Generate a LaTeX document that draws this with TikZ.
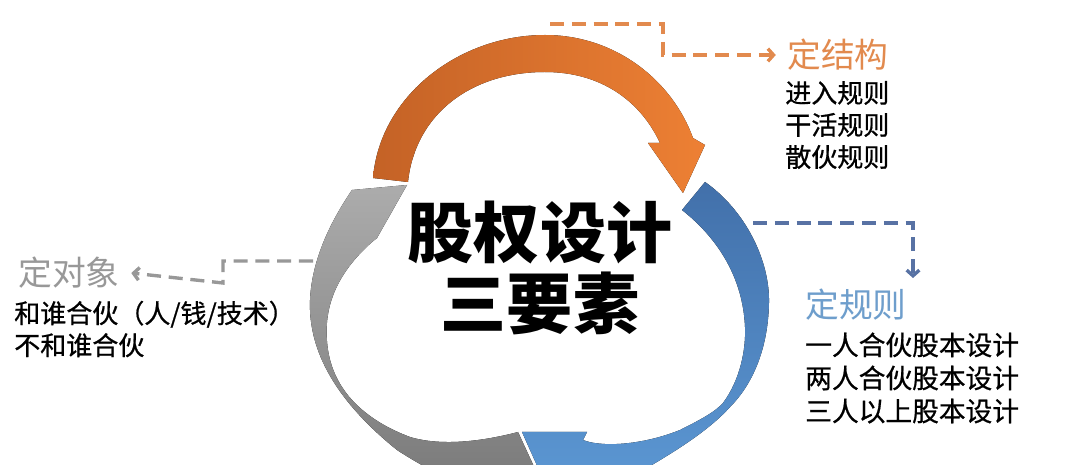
\documentclass[tikz,border=0pt]{standalone}
\usepackage{fontspec}
\newfontfamily\cjk{Noto Sans CJK SC}
\newfontfamily\cjkm[FakeBold=0.7]{Noto Sans CJK SC}
\usepackage{tikz}
\usetikzlibrary{positioning,arrows.meta,calc}

\definecolor{orgD}{RGB}{196,98,38}
\definecolor{orgL}{RGB}{237,128,52}
\definecolor{bluD}{RGB}{66,112,170}
\definecolor{bluL}{RGB}{92,152,212}
\definecolor{gryL}{RGB}{172,172,172}
\definecolor{gryD}{RGB}{122,122,122}
\definecolor{orgT}{RGB}{226,138,78}
\definecolor{bluT}{RGB}{110,158,204}
\definecolor{bluK}{RGB}{88,114,164}
\definecolor{gryT}{RGB}{152,152,152}

\tikzset{
	head/.style={font=\cjk\fontsize{24}{28}\selectfont, anchor=west, inner sep=0pt},
	items/.style={font=\cjkm\fontsize{18.5}{22.8}\selectfont, anchor=west, align=left, inner sep=0pt},
	link/.style={->, line width=2.4pt, dash pattern=on 10pt off 5.5pt},
	title/.style={font=\cjk\bfseries\fontsize{47}{50}\selectfont, inner sep=0pt}
}

\begin{document}
\begin{tikzpicture}[x=0.025cm, y=-0.025cm, >={Straight Barb[length=4pt,width=9pt]}]
	\fill[white] (0,0) rectangle (1080,465);
	\useasboundingbox (0,0) rectangle (1080,465);

	\begin{scope}
	\clip (0,0) rectangle (1080,465);
	% orange arrow
	\fill[left color=orgD, right color=orgL]
		(373,178) .. controls (380,95) and (460,35) .. (545,35)
		.. controls (615,35) and (672,80) .. (693,138) -- (705,145) -- (683,193)
		-- (648,143) -- (660,143) .. controls (640,100) and (600,72) .. (545,72)
		.. controls (470,72) and (415,115) .. (408,182) -- cycle;
	% blue arrow
	\fill[top color=bluD, bottom color=bluL]
		(705,182) .. controls (745,210) and (770,260) .. (769,303)
		.. controls (768,350) and (752,385) .. (730,407)
		.. controls (705,435) and (660,460) .. (640,472)
		-- (548,490) -- (522,432) -- (587,432) -- (583,440)
		.. controls (600,447) and (640,446) .. (680,430)
		.. controls (700,420) and (715,412) .. (723,403)
		.. controls (740,380) and (746,350) .. (745,327)
		.. controls (743,280) and (720,240) .. (682,210) -- cycle;
	% gray arrow
	\fill[top color=gryL, bottom color=gryD]
		(407,185) -- (352,190)
		.. controls (335,215) and (312,255) .. (310,300)
		.. controls (308,350) and (335,400) .. (397,450)
		.. controls (420,465) and (440,475) .. (460,484) -- (542,484) -- (518,432)
		.. controls (480,442) and (440,446) .. (410,437)
		.. controls (370,422) and (335,395) .. (328,350)
		.. controls (322,310) and (335,275) .. (372,242) -- (377,238) -- cycle;
	\end{scope}

	\node[title] (T1) at (540,233) {股权设计};
	\node[title] (T2) at (540,303) {三要素};

	\node[head, orgT] (JG) at (787,55) {定结构};
	\node[items] (JGL) at (785,125) {进入规则\\干活规则\\散伙规则};
	\node[head, bluT] (GZ) at (805,305) {定规则};
	\node[items, font=\cjkm\fontsize{19}{23.5}\selectfont] (GZL) at (805,378) {一人合伙股本设计\\两人合伙股本设计\\三人以上股本设计};
	\node[head, gryT, anchor=east] (DX) at (120,273) {定对象};
	\node[items] (DXL) at (14,329) {和谁合伙（人/钱/技术）\\不和谁合伙};

	\coordinate (oS) at (550,24);
	\coordinate (oM) at (663,55);
	\coordinate (bS) at (753,223);
	\coordinate (bE) at (913,278);
	\coordinate (gS) at (313,261);
	\coordinate (gM) at (223,283);

	\draw[link, orgT] (oS) -| (oM) -- ([xshift=-8pt]JG.west);
	\draw[link, bluK] (bS) -| (bE);
	\draw[link, gryT] (gS) -| (gM) -- ([xshift=8pt]DX.east);
\end{tikzpicture}
\end{document}
